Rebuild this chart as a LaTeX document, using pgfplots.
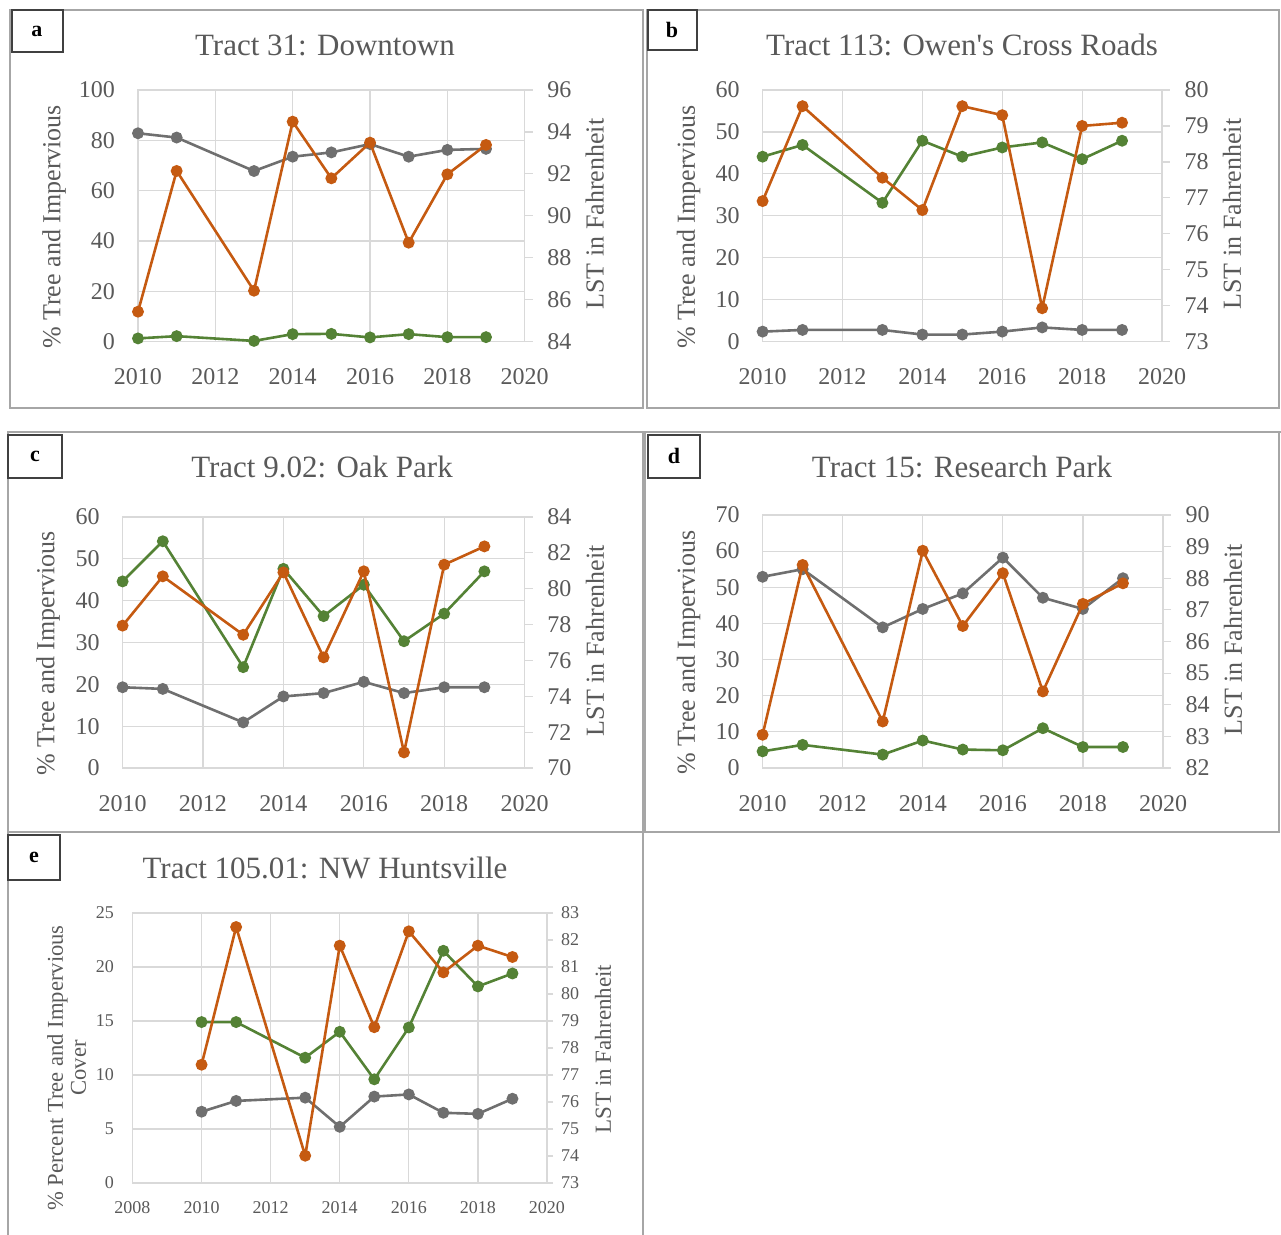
\documentclass[border=0pt]{standalone}
\usepackage{fontspec}
\setmainfont{Liberation Serif}
\usepackage{pgfplots}
\pgfplotsset{compat=1.18}
\definecolor{gridc}{HTML}{D9D9D9}
\definecolor{txt}{HTML}{595959}
\definecolor{org}{HTML}{C55A11}
\definecolor{grn}{HTML}{548235}
\definecolor{gry}{HTML}{6F6F6F}
\definecolor{frm}{HTML}{A6A6A6}
\pgfplotsset{
  common/.style={scale only axis, anchor=south west, xmin=2010, xmax=2020,
    ticklabel style={font=\fontsize{12}{13}\selectfont, text=txt},
    /pgf/number format/1000 sep={}, /pgf/number format/assume math mode=true,
    clip=false},
  leftax/.style={common, xtick={2010,2012,...,2020}, grid=major,
    major grid style={draw=gridc, line width=0.6pt},
    axis line style={draw=gridc, line width=0.6pt},
    tick style={draw=none}, xticklabel shift=10pt, yticklabel shift=8pt,
    ylabel style={font=\fontsize{13}{14}\selectfont, text=txt, anchor=center}},
  rightax/.style={common, axis x line=none, axis y line*=right,
    axis line style={draw=gridc, line width=0.6pt},
    ytick style={draw=gridc, line width=0.6pt}, tick align=outside,
    major tick length=4pt, yticklabel shift=3.8pt,
    ylabel style={font=\fontsize{13}{14}\selectfont, text=txt, anchor=center}},
  ser/.style={line width=1.3pt, mark=*, mark size=2.3pt, mark options={solid}},
}
\begin{document}
\begin{tikzpicture}
\useasboundingbox (0,0) rectangle (640.5pt,617.5pt);
\begin{scope}[x=0.5pt, y=-0.5pt, yshift=617.5pt]
  % frames
  \draw[frm, line width=0.7pt] (10,10) rectangle (643,408);
  \draw[frm, line width=0.7pt] (647,10) rectangle (1279,408);
  \draw[frm, line width=0.7pt] (645,432) -- (1281,432);
  \draw[frm, line width=0.7pt] (8,432) rectangle (643,832);
  \draw[frm, line width=0.7pt] (645,432) rectangle (1279,832);
  \draw[frm, line width=0.7pt] (8,1235) -- (8,832) -- (643,832) -- (643,1235);
  % label boxes
  \draw[black!75, line width=0.7pt] (12,10) rectangle (63,52);
  \node[font=\fontsize{11}{12}\selectfont\bfseries] at (37,31) {a};
  \draw[black!75, line width=0.7pt] (648,10) rectangle (697,50);
  \node[font=\fontsize{11}{12}\selectfont\bfseries] at (672,30) {b};
  \draw[black!75, line width=0.7pt] (8,435) rectangle (62,478);
  \node[font=\fontsize{11}{12}\selectfont\bfseries] at (35,456) {c};
  \draw[black!75, line width=0.7pt] (648,435) rectangle (700,478);
  \node[font=\fontsize{11}{12}\selectfont\bfseries] at (674,456) {d};
  \draw[black!75, line width=0.7pt] (8,835) rectangle (60,880);
  \node[font=\fontsize{11}{12}\selectfont\bfseries] at (34,857) {e};
  % titles
  \node[font=\fontsize{15.5}{16}\selectfont, text=txt] at (325,45) {Tract 31: Downtown};
  \node[font=\fontsize{15.5}{16}\selectfont, text=txt] at (962,45) {Tract 113: Owen\textquotesingle s Cross Roads};
  \node[font=\fontsize{15.5}{16}\selectfont, text=txt] at (322,467) {Tract 9.02: Oak Park};
  \node[font=\fontsize{15.5}{16}\selectfont, text=txt] at (962,467) {Tract 15: Research Park};
  \node[font=\fontsize{15.5}{16}\selectfont, text=txt] at (325,868) {Tract 105.01: NW Huntsville};
\end{scope}

% ---------- Panel a ----------
\begin{axis}[leftax, at={(69pt,446.65pt)}, width=193.35pt, height=125.85pt,
  ymin=0, ymax=100, ytick={0,20,...,100},
  ylabel={\% Tree and Impervious}, ylabel style={at={(axis description cs:-0.217,0.456)}}]
\addplot[ser, gry] coordinates {(2010,82.8)(2011,81.1)(2013,67.8)(2014,73.5)(2015,75.2)(2016,78.5)(2017,73.5)(2018,76.2)(2019,76.6)};
\addplot[ser, grn] coordinates {(2010,1.3)(2011,2.2)(2013,0.3)(2014,3.0)(2015,3.1)(2016,1.7)(2017,3.0)(2018,1.8)(2019,1.8)};
\end{axis}
\begin{axis}[rightax, at={(69pt,446.65pt)}, width=193.35pt, height=125.85pt,
  ymin=84, ymax=96, ytick={84,86,...,96},
  ylabel={LST in Fahrenheit}, ylabel style={at={(axis description cs:1.181,0.507)}}]
\addplot[ser, org] coordinates {(2010,85.43)(2011,92.14)(2013,86.43)(2014,94.49)(2015,91.79)(2016,93.49)(2017,88.72)(2018,91.98)(2019,93.38)};
\end{axis}

% ---------- Panel b ----------
\begin{axis}[leftax, at={(381.3pt,446.65pt)}, width=199.7pt, height=125.85pt,
  ymin=0, ymax=60, ytick={0,10,...,60},
  ylabel={\% Tree and Impervious}, ylabel style={at={(axis description cs:-0.185,0.456)}}]
\addplot[ser, gry] coordinates {(2010,2.4)(2011,2.8)(2013,2.8)(2014,1.7)(2015,1.7)(2016,2.4)(2017,3.4)(2018,2.8)(2019,2.8)};
\addplot[ser, grn] coordinates {(2010,44.1)(2011,46.9)(2013,33.1)(2014,47.9)(2015,44.1)(2016,46.3)(2017,47.5)(2018,43.5)(2019,47.9)};
\end{axis}
\begin{axis}[rightax, at={(381.3pt,446.65pt)}, width=199.7pt, height=125.85pt,
  ymin=73, ymax=80, ytick={73,74,...,80},
  ylabel={LST in Fahrenheit}, ylabel style={at={(axis description cs:1.175,0.507)}}]
\addplot[ser, org] coordinates {(2010,76.91)(2011,79.55)(2013,77.56)(2014,76.66)(2015,79.55)(2016,79.30)(2017,73.93)(2018,79.0)(2019,79.09)};
\end{axis}

% ---------- Panel c ----------
\begin{axis}[leftax, at={(61.3pt,233.5pt)}, width=201pt, height=125.5pt,
  ymin=0, ymax=60, ytick={0,10,...,60},
  ylabel={\% Tree and Impervious}, ylabel style={at={(axis description cs:-0.185,0.456)}}]
\addplot[ser, gry] coordinates {(2010,19.3)(2011,18.9)(2013,10.9)(2014,17.1)(2015,17.9)(2016,20.6)(2017,17.9)(2018,19.3)(2019,19.3)};
\addplot[ser, grn] coordinates {(2010,44.6)(2011,54.2)(2013,24.1)(2014,47.6)(2015,36.3)(2016,43.8)(2017,30.3)(2018,36.9)(2019,47.0)};
\end{axis}
\begin{axis}[rightax, at={(61.3pt,233.5pt)}, width=201pt, height=125.5pt,
  ymin=70, ymax=84, ytick={70,72,...,84},
  ylabel={LST in Fahrenheit}, ylabel style={at={(axis description cs:1.175,0.507)}}]
\addplot[ser, org] coordinates {(2010,77.94)(2011,80.69)(2013,77.43)(2014,80.91)(2015,76.17)(2016,80.97)(2017,70.87)(2018,81.34)(2019,82.36)};
\end{axis}

% ---------- Panel d ----------
\begin{axis}[leftax, at={(381.3pt,233.5pt)}, width=200.2pt, height=126.5pt,
  ymin=0, ymax=70, ytick={0,10,...,70},
  ylabel={\% Tree and Impervious}, ylabel style={at={(axis description cs:-0.185,0.456)}}]
\addplot[ser, gry] coordinates {(2010,52.9)(2011,55.0)(2013,38.9)(2014,44.0)(2015,48.3)(2016,58.2)(2017,47.1)(2018,44.0)(2019,52.5)};
\addplot[ser, grn] coordinates {(2010,4.6)(2011,6.4)(2013,3.7)(2014,7.6)(2015,5.1)(2016,4.9)(2017,11.0)(2018,5.8)(2019,5.8)};
\end{axis}
\begin{axis}[rightax, at={(381.3pt,233.5pt)}, width=200.2pt, height=126.5pt,
  ymin=82, ymax=90, ytick={82,83,...,90},
  ylabel={LST in Fahrenheit}, ylabel style={at={(axis description cs:1.175,0.507)}}]
\addplot[ser, org] coordinates {(2010,83.05)(2011,88.42)(2013,83.47)(2014,88.87)(2015,86.49)(2016,88.16)(2017,84.42)(2018,87.19)(2019,87.84)};
\end{axis}

% ---------- Panel e ----------
\begin{axis}[leftax, at={(66.25pt,26pt)}, width=207.25pt, height=135pt,
  xmin=2008, xmax=2020, xtick={2008,2010,...,2020},
  ymin=0, ymax=25, ytick={0,5,...,25},
  ticklabel style={font=\fontsize{9}{10}\selectfont},
  xticklabel shift=5.5pt, yticklabel shift=5.75pt,
  ylabel={\% Percent Tree and Impervious\\Cover},
  ylabel style={align=center, font=\fontsize{11.3}{11.5}\selectfont, at={(axis description cs:-0.159,0.426)}}]
\addplot[ser, gry] coordinates {(2010,6.6)(2011,7.6)(2013,7.9)(2014,5.2)(2015,8.0)(2016,8.2)(2017,6.5)(2018,6.4)(2019,7.8)};
\addplot[ser, grn] coordinates {(2010,14.9)(2011,14.9)(2013,11.6)(2014,14.0)(2015,9.6)(2016,14.4)(2017,21.5)(2018,18.2)(2019,19.4)};
\end{axis}
\begin{axis}[rightax, at={(66.25pt,26pt)}, width=207.25pt, height=135pt,
  xmin=2008, xmax=2020,
  ymin=73, ymax=83, ytick={73,74,...,83},
  ticklabel style={font=\fontsize{9}{10}\selectfont},
  major tick length=3pt, yticklabel shift=0.5pt,
  ylabel={LST in Fahrenheit},
  ylabel style={font=\fontsize{11.5}{12}\selectfont, at={(axis description cs:1.135,0.496)}}]
\addplot[ser, org] coordinates {(2010,77.38)(2011,82.48)(2013,74.01)(2014,81.79)(2015,78.77)(2016,82.32)(2017,80.80)(2018,81.79)(2019,81.37)};
\end{axis}
\end{tikzpicture}
\end{document}
